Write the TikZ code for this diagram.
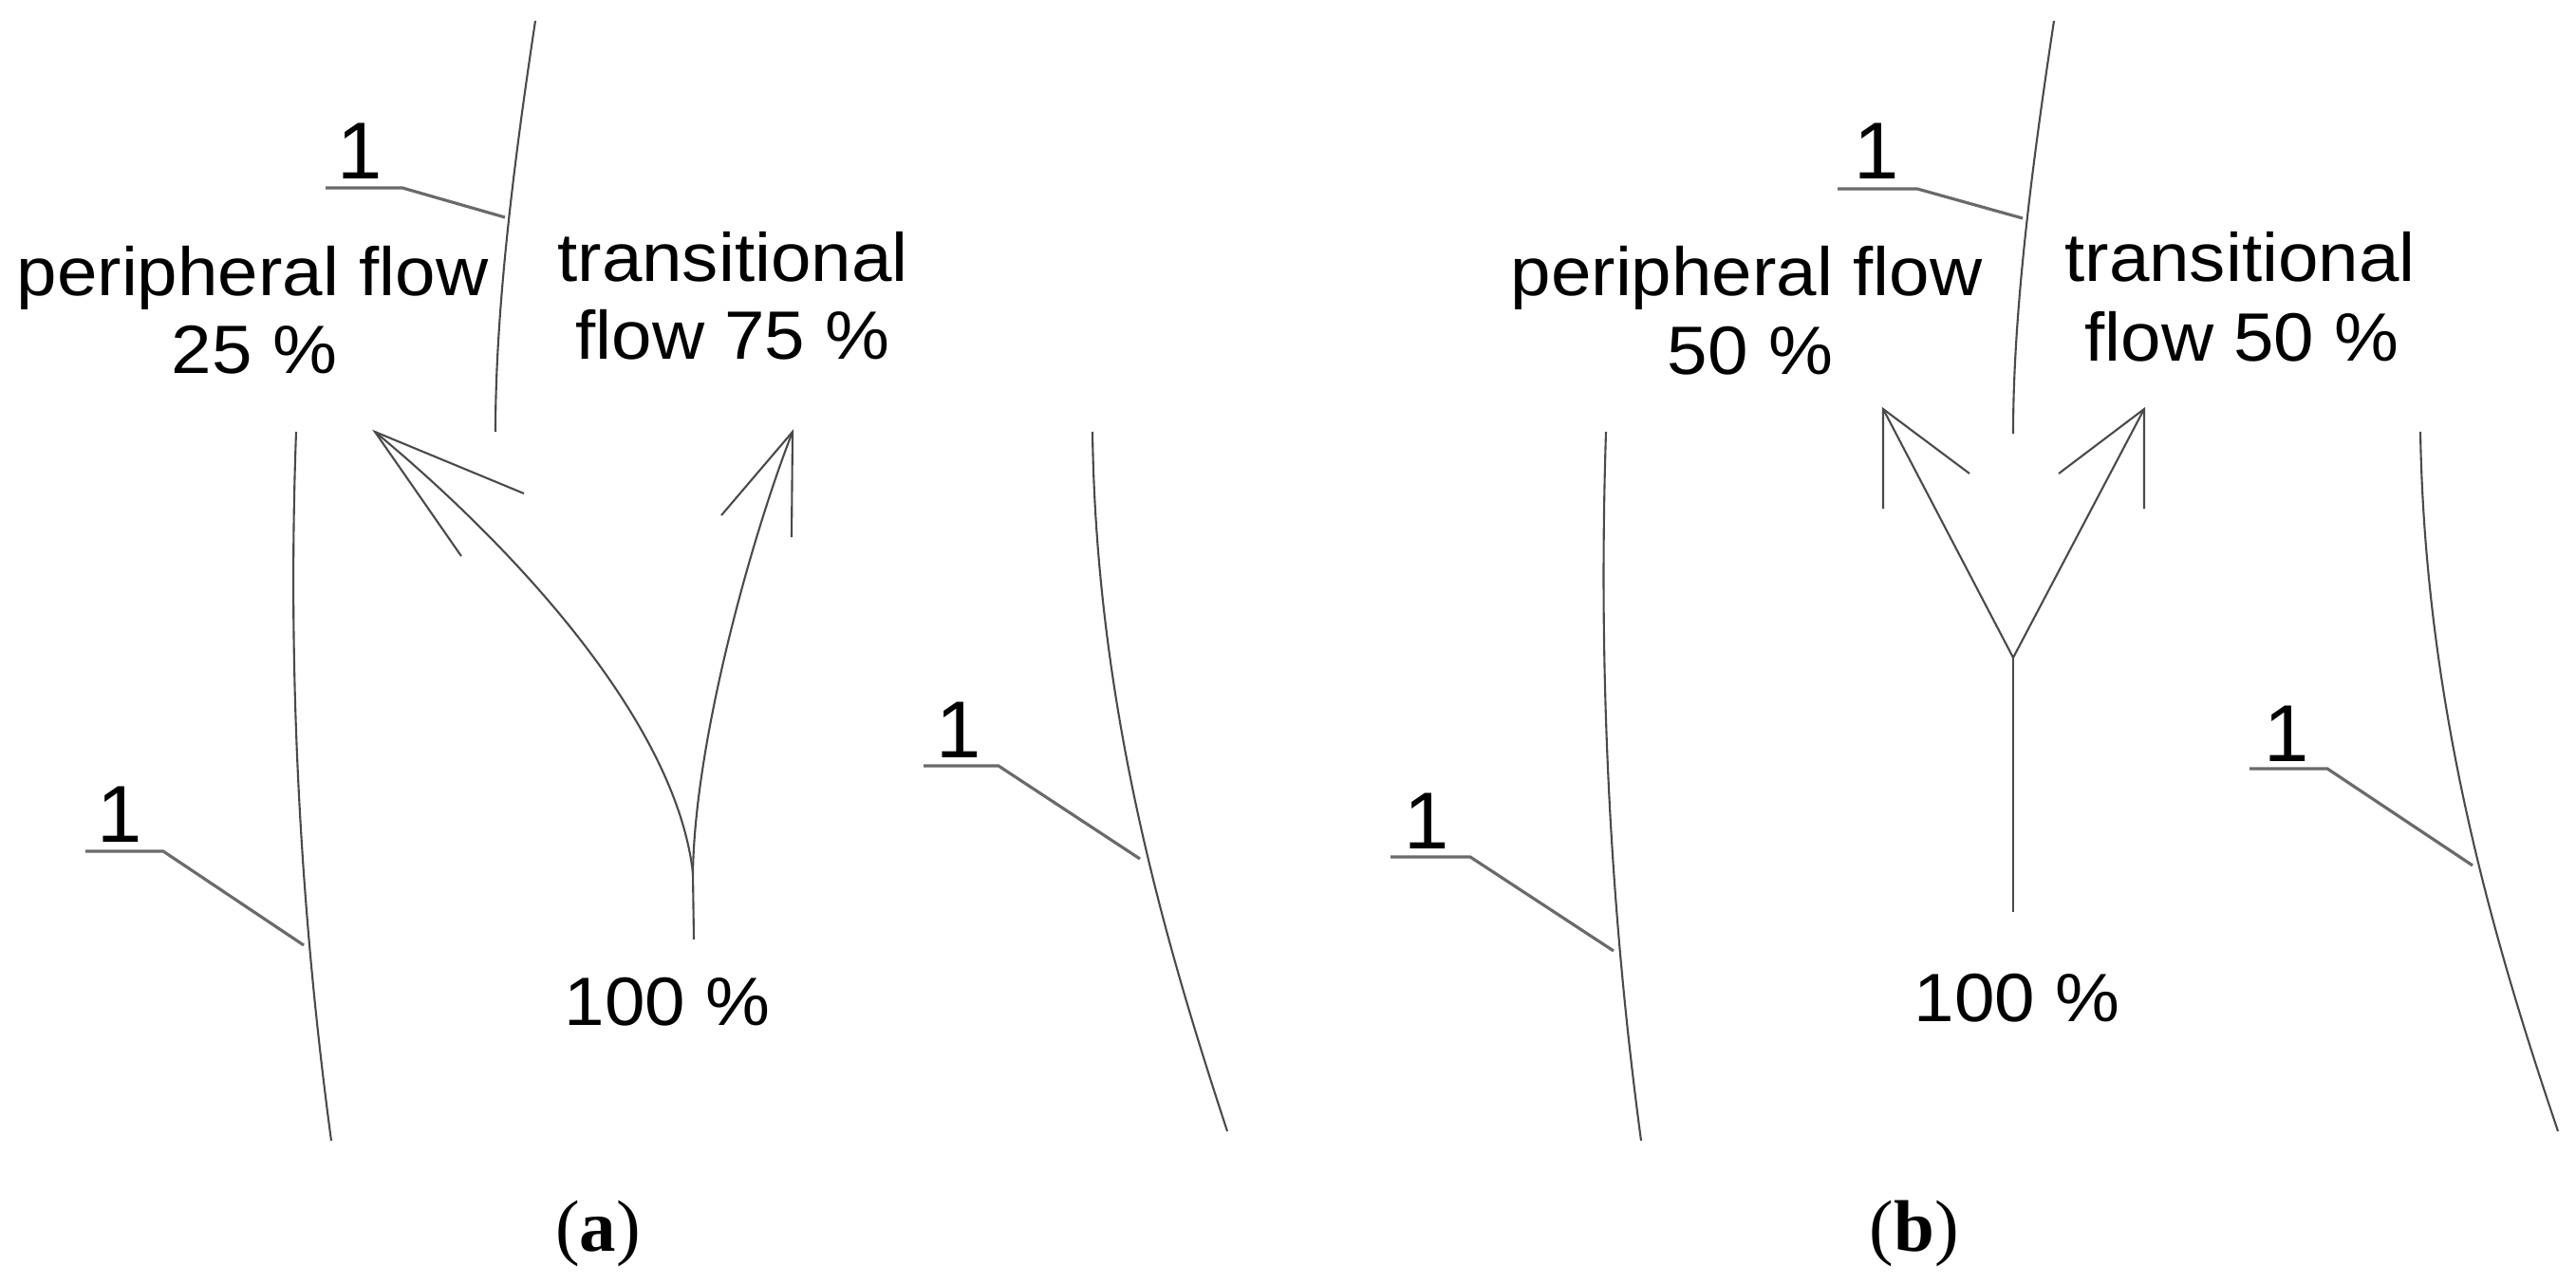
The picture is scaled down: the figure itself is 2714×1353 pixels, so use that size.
\documentclass[tikz,border=0pt]{standalone}
\usepackage{fontspec}
\setmainfont{Liberation Serif}
\newfontfamily\labfont[FakeStretch=1.06]{Liberation Sans}
\newfontfamily\onefont{Liberation Sans}
\definecolor{linegray}{HTML}{4A4A4A}
\definecolor{leadgray}{HTML}{6A6A6A}
\begin{document}
\begin{tikzpicture}[x=0.1mm,y=-0.1mm,
  wall/.style={draw=linegray, line width=0.6pt},
  flowline/.style={draw=linegray, line width=0.6pt},
  leader/.style={draw=leadgray, line width=0.9pt},
  lbl/.style={font=\labfont\fontsize{20.5}{24}\selectfont, anchor=base, inner sep=0pt},
  numlbl/.style={font=\onefont\fontsize{24.2}{28}\selectfont, anchor=base, inner sep=0pt},
  captext/.style={font=\fontsize{21.9}{26}\selectfont, anchor=base, inner sep=0pt}]
\useasboundingbox (0,0) rectangle (2714,1353);

% ---------- panel (a) ----------
% walls
\coordinate (aTopS) at (564,22);   \coordinate (aTopE) at (522,455);
\coordinate (aLS) at (312,455);    \coordinate (aLE) at (349,1202);
\coordinate (aRS) at (1151,455);   \coordinate (aRE) at (1293,1192);
\draw[wall] (aTopS) .. controls (540,180) and (522,330) .. (aTopE);
\draw[wall] (aLS) .. controls (303,700) and (315,950) .. (aLE);
\draw[wall] (aRS) .. controls (1155,750) and (1230,1000) .. (aRE);

% flow arrows
\coordinate (aJ) at (730,920);  \coordinate (aStem) at (731,990);
\coordinate (aTipL) at (395,455); \coordinate (aTipR) at (835,455);
\coordinate (aHL1) at (552,520); \coordinate (aHL2) at (486,586);
\coordinate (aHR1) at (760,543); \coordinate (aHR2) at (834,566);
\draw[flowline] (aStem) -- (aJ);
\draw[flowline] (aJ) .. controls (712,760) and (540,575) .. (aTipL);
\draw[flowline] (aJ) .. controls (732,780) and (792,565) .. (aTipR);
\draw[flowline] (aHL1) -- (aTipL) -- (aHL2);
\draw[flowline] (aHR1) -- (aTipR) -- (aHR2);

% leaders
\coordinate (aT1a) at (343,198); \coordinate (aT1b) at (424,198); \coordinate (aT1c) at (532,229);
\coordinate (aL1a) at (90,897);  \coordinate (aL1b) at (172,897); \coordinate (aL1c) at (320,996);
\coordinate (aR1a) at (973,807); \coordinate (aR1b) at (1052,807); \coordinate (aR1c) at (1201,905);
\draw[leader] (aT1a) -- (aT1b) -- (aT1c);
\draw[leader] (aL1a) -- (aL1b) -- (aL1c);
\draw[leader] (aR1a) -- (aR1b) -- (aR1c);
\node[numlbl] (naT) at (379,189) {1};
\node[numlbl] (naL) at (126,887) {1};
\node[numlbl] (naR) at (1010,798) {1};

% labels
\node[lbl] (aPer1) at (266,312) {peripheral flow};
\node[lbl] (aPer2) at (268,394) {25 \%};
\node[lbl] (aTr1) at (772,297) {transitional};
\node[lbl] (aTr2) at (772,379) {flow 75 \%};
\node[lbl] (aHun) at (703,1080) {100 \%};
\node[captext] (capA) at (630,1318) {(\textbf{a})};

% ---------- panel (b) ----------
\coordinate (bTopS) at (2164,22);  \coordinate (bTopE) at (2121,457);
\coordinate (bLS) at (1692,455);   \coordinate (bLE) at (1729,1202);
\coordinate (bRS) at (2550,455);   \coordinate (bRE) at (2695,1192);
\draw[wall] (bTopS) .. controls (2140,180) and (2121,330) .. (bTopE);
\draw[wall] (bLS) .. controls (1684,700) and (1695,950) .. (bLE);
\draw[wall] (bRS) .. controls (2555,750) and (2630,1000) .. (bRE);

\coordinate (bJ) at (2121,693);  \coordinate (bStem) at (2121,961);
\coordinate (bTipL) at (1984,431); \coordinate (bTipR) at (2259,431);
\coordinate (bHL1) at (1984,536); \coordinate (bHL2) at (2075,499);
\coordinate (bHR1) at (2259,536); \coordinate (bHR2) at (2169,499);
\draw[flowline] (bStem) -- (bJ);
\draw[flowline] (bJ) -- (bTipL);
\draw[flowline] (bJ) -- (bTipR);
\draw[flowline] (bHL1) -- (bTipL) -- (bHL2);
\draw[flowline] (bHR1) -- (bTipR) -- (bHR2);

\coordinate (bT1a) at (1936,199); \coordinate (bT1b) at (2020,199); \coordinate (bT1c) at (2131,230);
\coordinate (bL1a) at (1465,903); \coordinate (bL1b) at (1549,903); \coordinate (bL1c) at (1700,1002);
\coordinate (bR1a) at (2370,810); \coordinate (bR1b) at (2452,810); \coordinate (bR1c) at (2605,912);
\draw[leader] (bT1a) -- (bT1b) -- (bT1c);
\draw[leader] (bL1a) -- (bL1b) -- (bL1c);
\draw[leader] (bR1a) -- (bR1b) -- (bR1c);
\node[numlbl] (nbT) at (1977,189) {1};
\node[numlbl] (nbL) at (1503,894) {1};
\node[numlbl] (nbR) at (2409,802) {1};

\node[lbl] (bPer1) at (1840,312) {peripheral flow};
\node[lbl] (bPer2) at (1844,395) {50 \%};
\node[lbl] (bTr1) at (2360,297) {transitional};
\node[lbl] (bTr2) at (2362,381) {flow 50 \%};
\node[lbl] (bHun) at (2125,1076) {100 \%};
\node[captext] (capB) at (2017,1318) {(\textbf{b})};
\end{tikzpicture}
\end{document}
